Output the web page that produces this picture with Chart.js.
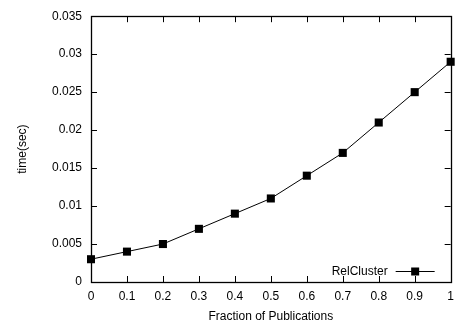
<!DOCTYPE html>
<html>
<head>
<meta charset="utf-8">
<script src="https://cdn.jsdelivr.net/npm/chart.js@4"></script>
<style>
  html, body { margin: 0; padding: 0; background: #fff; }
  #wrap { width: 461px; height: 329px; }
</style>
</head>
<body>
<div id="wrap"><canvas id="chart" width="461" height="329"></canvas></div>
<script>
const fractions = [0, 0.1, 0.2, 0.3, 0.4, 0.5, 0.6, 0.7, 0.8, 0.9, 1]
const relClusterTime = [0.003, 0.004, 0.005, 0.007, 0.009, 0.011, 0.014, 0.017, 0.021, 0.025, 0.029]

const xTickValues = [0, 0.1, 0.2, 0.3, 0.4, 0.5, 0.6, 0.7, 0.8, 0.9, 1]
const xTickLabels = ['0', '0.1', '0.2', '0.3', '0.4', '0.5', '0.6', '0.7', '0.8', '0.9', '1']
const yTickValues = [0, 0.005, 0.01, 0.015, 0.02, 0.025, 0.03, 0.035]
const yTickLabels = ['0', '0.005', '0.01', '0.015', '0.02', '0.025', '0.03', '0.035']

const seriesName = 'RelCluster'
const fontFamily = '"Liberation Sans", Arial, Helvetica, sans-serif'

// frame with inward ticks on all four sides, gnuplot style
const framePlugin = {
  id: 'frame',
  afterDatasetsDraw(chart) {
    const { ctx, chartArea: a, scales } = chart
    const len = 6
    ctx.save()
    ctx.strokeStyle = '#000'
    ctx.lineWidth = 1
    ctx.beginPath()
    xTickValues.forEach(v => {
      const px = Math.round(scales.x.getPixelForValue(v)) + 0.5
      ctx.moveTo(px, a.bottom); ctx.lineTo(px, a.bottom - len)
      ctx.moveTo(px, a.top); ctx.lineTo(px, a.top + len)
    })
    yTickValues.forEach(v => {
      const py = Math.round(scales.y.getPixelForValue(v)) + 0.5
      ctx.moveTo(a.left, py); ctx.lineTo(a.left + len, py)
      ctx.moveTo(a.right, py); ctx.lineTo(a.right - len, py)
    })
    ctx.stroke()
    ctx.lineWidth = 1.3
    ctx.strokeRect(Math.round(a.left) + 0.5, Math.round(a.top) + 0.5,
      Math.round(a.right - a.left), Math.round(a.bottom - a.top))

    // key, bottom right inside the plot
    const ky = a.bottom - 11
    const x1 = a.right - 55, x2 = a.right - 16
    ctx.lineWidth = 1
    ctx.beginPath()
    ctx.moveTo(x1, ky + 0.5); ctx.lineTo(x2, ky + 0.5)
    ctx.stroke()
    ctx.fillStyle = '#000'
    ctx.fillRect((x1 + x2) / 2 - 4, ky - 3.5, 8, 8)
    ctx.font = '12px ' + fontFamily
    ctx.textAlign = 'right'
    ctx.textBaseline = 'middle'
    ctx.fillText(seriesName, a.right - 63, ky + 1)
    ctx.restore()
  }
}

window.addEventListener('load', () => {
  Chart.defaults.font.family = fontFamily
  Chart.defaults.font.size = 12
  Chart.defaults.color = '#000'

  new Chart(document.getElementById('chart'), {
    type: 'scatter',
    data: {
      datasets: [{
        label: seriesName,
        data: fractions.map((f, i) => ({ x: f, y: relClusterTime[i] })),
        showLine: true,
        borderColor: '#000',
        borderWidth: 1,
        backgroundColor: '#000',
        pointStyle: 'rect',
        pointRadius: 5.7,
        pointBorderWidth: 0,
        pointHoverRadius: 5.7,
        clip: false
      }]
    },
    options: {
      responsive: false,
      animation: false,
      events: [],
      layout: { padding: { left: 0, right: 7, top: 10, bottom: 0 } },
      plugins: { legend: { display: false }, tooltip: { enabled: false } },
      scales: {
        x: {
          type: 'linear',
          min: 0,
          max: 1,
          afterBuildTicks: s => { s.ticks = xTickValues.map(v => ({ value: v })) },
          afterFit: s => { s.height = 47 },
          grid: { display: false, drawTicks: false },
          border: { display: false },
          ticks: {
            padding: 7,
            maxRotation: 0,
            callback: (v, i) => xTickLabels[i]
          },
          title: {
            display: true,
            text: 'Fraction of Publications',
            padding: { top: 0, bottom: 5 }
          }
        },
        y: {
          type: 'linear',
          min: 0,
          max: 0.035,
          afterBuildTicks: s => { s.ticks = yTickValues.map(v => ({ value: v })) },
          afterFit: s => { s.width = 91 },
          grid: { display: false, drawTicks: false },
          border: { display: false },
          ticks: {
            padding: 9,
            callback: (v, i) => yTickLabels[i]
          },
          title: {
            display: true,
            text: 'time(sec)',
            padding: { top: 15, bottom: 0 }
          }
        }
      }
    },
    plugins: [framePlugin]
  })
})
</script>
</body>
</html>
